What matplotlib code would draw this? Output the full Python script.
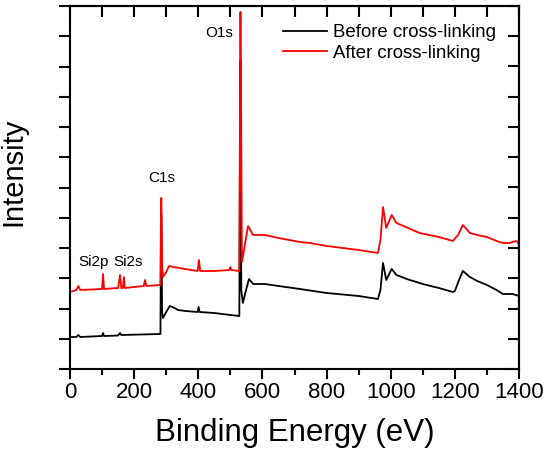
import matplotlib
matplotlib.use('Agg')
import matplotlib.pyplot as plt
from matplotlib.ticker import MultipleLocator, NullFormatter

plt.rcParams['font.family'] = 'Liberation Sans'

# survey spectra (counts, arbitrary)
energia_antes = [0, 20, 26, 32, 100, 103, 106, 150, 156, 160, 282, 284, 285, 287, 290, 300, 311,
                 320, 337, 360, 398, 401, 404, 450, 500, 528, 531, 532, 534, 539, 549, 558, 571,
                 608, 650, 717, 800, 900, 960, 968, 976, 986, 1003, 1018, 1050, 1100, 1150, 1194,
                 1200, 1213, 1225, 1247, 1270, 1300, 1330, 1350, 1380, 1400]
intens_antes = [3200, 3200, 3400, 3200, 3300, 3600, 3300, 3350, 3600, 3400, 3500, 15400, 15400,
                5700, 5100, 5700, 6300, 6200, 5900, 5800, 5700, 6200, 5700, 5600, 5400, 5300,
                30900, 30900, 7900, 6600, 7900, 9000, 8500, 8500, 8300, 8000, 7600, 7300, 7000,
                7900, 10600, 8900, 10000, 9400, 9000, 8500, 8100, 7700, 7800, 8900, 9800, 9200,
                8800, 8400, 7900, 7500, 7500, 7300]

energia_depois = [0, 20, 26, 32, 100, 103, 106, 150, 156, 160, 165, 168, 171, 230, 234, 238, 282,
                  284, 285, 287, 290, 300, 309, 321, 359, 398, 402, 406, 450, 497, 500, 503, 528,
                  531, 532, 536, 540, 555, 571, 608, 650, 717, 748, 800, 900, 960, 968, 976, 986,
                  1003, 1018, 1090, 1150, 1194, 1210, 1225, 1247, 1270, 1300, 1330, 1350, 1370,
                  1390, 1397, 1400]
intens_depois = [7700, 7900, 8300, 7900, 8000, 9500, 8000, 8100, 9400, 8100, 8100, 9200, 8100,
                 8300, 8900, 8300, 8400, 17100, 17100, 10400, 9200, 9700, 10300, 10200, 10000,
                 9800, 10900, 9800, 9800, 9900, 10200, 9900, 9800, 35700, 35700, 10700, 11400,
                 14300, 13400, 13400, 13100, 12700, 12600, 12300, 11900, 11600, 12900, 16200,
                 14100, 15400, 14600, 13600, 13200, 12800, 13400, 14400, 13600, 13400, 13200,
                 12800, 12600, 12600, 12800, 12700, 12200]

rotulos = ['Si2p', 'Si2s', 'C1s', 'O1s']
rotulos_x = [72, 181, 287, 465]
rotulos_y = [10700, 10700, 19100, 33600]

fig = plt.figure(figsize=(5.48, 4.54), dpi=100)
ax = fig.add_axes([70 / 548, 85 / 454, 449 / 548, 363 / 454])

ax.plot(energia_antes, intens_antes, color='black', lw=1.3, label='Before cross-linking')
ax.plot(energia_depois, intens_depois, color='red', lw=1.3, label='After cross-linking')

for t, x, y in zip(rotulos, rotulos_x, rotulos_y):
    ax.text(x, y, t, fontsize=11, ha='center', va='center')

ax.set_xlim(0, 1400)
ax.set_ylim(0, 36300)

ax.xaxis.set_major_locator(MultipleLocator(200))
ax.xaxis.set_minor_locator(MultipleLocator(100))
ax.yaxis.set_major_locator(MultipleLocator(3025))
ax.yaxis.set_major_formatter(NullFormatter())
ax.tick_params(axis='x', which='major', direction='out', length=7, width=1.5, labelsize=16, pad=2)
ax.tick_params(axis='x', which='minor', direction='out', length=4, width=1.5)
ax.tick_params(axis='y', direction='out', length=8, width=1.5)

topo = ax.secondary_xaxis('top')
topo.xaxis.set_major_locator(MultipleLocator(100))
topo.tick_params(direction='in', length=8, width=1.5, labeltop=False)
dir_ = ax.secondary_yaxis('right')
dir_.yaxis.set_major_locator(MultipleLocator(3025))
dir_.tick_params(direction='in', length=8, width=1.5, labelright=False)

for s in list(ax.spines.values()) + list(topo.spines.values()) + list(dir_.spines.values()):
    s.set_linewidth(1.5)

ax.set_xlabel('Binding Energy (eV)', fontsize=22.5, labelpad=11)
ax.set_ylabel('Intensity', fontsize=21)
ax.yaxis.set_label_coords(-0.096, 0.543)

ax.legend(loc='upper left', bbox_to_anchor=(0.474, 0.95), frameon=False, fontsize=13.4,
          handlelength=2.37, handletextpad=0.32, labelspacing=0.2, borderpad=0, borderaxespad=0)

plt.savefig('out.png', dpi=100)
